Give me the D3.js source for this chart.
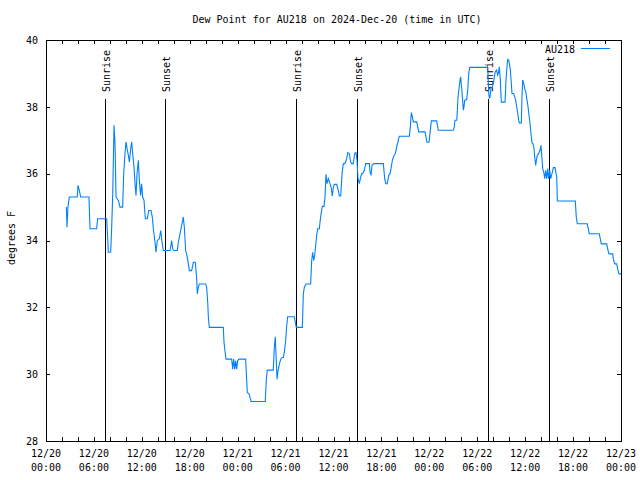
<!DOCTYPE html>
<html><head><meta charset="utf-8">
<script src="https://cdn.jsdelivr.net/npm/d3@7"></script>
<style>
body{margin:0;background:#fff}
svg{display:block}
text{font-family:"DejaVu Sans Mono","Liberation Mono",monospace;font-size:10px;fill:#000}
</style>
</head><body>
<svg id="chart" width="640" height="480"></svg>
<script>
// ---- data (hours since 2024-12-20 00:00 UTC, dew point °F) ----
const hours = [
2.55,2.63,2.75,2.92,3.92,4.0,4.17,4.34,5.38,5.51,6.34,6.47,7.6,7.72,7.8,8.1,8.22,8.35,8.52,8.64,8.77,9.06,9.27,9.6,9.73,9.89,10.02,10.19,10.31,10.44,10.6,10.73,10.85,11.02,11.15,11.27,11.4,11.56,11.69,11.85,11.98,12.1,12.27,12.44,12.69,12.86,13.15,13.31,13.44,13.65,13.77,13.94,14.19,14.36,14.53,14.69,15.53,15.74,15.86,16.03,16.44,16.57,16.78,16.99,17.19,17.32,17.49,17.69,17.95,18.24,18.45,18.7,18.87,
18.95,19.07,19.2,20.0,20.12,20.25,20.33,20.45,22.2,22.29,22.41,22.54,23.25,23.38,23.5,23.63,23.75,23.88,24.0,24.17,25.0,25.13,25.21,25.46,25.67,27.46,27.59,27.71,28.46,28.59,28.71,28.8,28.93,29.05,29.22,29.39,29.55,29.72,29.84,30.01,30.14,30.26,31.09,31.22,31.34,32.1,
32.22,32.35,32.56,33.14,33.27,33.39,33.52,33.64,33.77,33.89,34.02,34.23,34.31,34.48,34.6,34.81,34.94,35.06,35.19,35.35,35.56,35.73,35.85,35.98,36.1,36.4,36.6,36.73,36.9,37.07,37.23,37.44,37.65,37.78,37.98,38.15,38.28,38.48,38.65,38.82,38.94,39.07,39.23,39.36,39.53,39.7,39.86,40.03,40.49,40.57,40.7,40.82,41.07,42.24,42.41,42.54,42.74,42.91,43.08,43.2,43.37,43.58,43.74,43.91,44.12,44.24,45.5,45.62,45.75,45.87,46.0,46.42,46.67,47.46,47.58,47.71,47.96,48.08,48.25,48.92,49.12,51.0,
51.09,51.21,51.43,51.51,51.59,51.72,51.84,51.93,52.01,52.09,52.18,52.26,52.34,52.43,52.68,52.81,52.93,53.06,55.31,55.44,55.52,55.6,55.72,55.89,56.01,56.14,56.26,56.43,56.56,56.69,56.76,56.89,57.01,57.48,57.6,57.73,57.81,57.94,58.02,58.14,58.27,58.35,58.56,58.69,58.81,58.94,59.07,59.19,59.27,59.52,59.6,59.69,59.82,59.94,60.11,60.23,60.36,60.48,60.61,60.73,60.86,60.98,61.11,61.19,61.32,61.4,61.52,61.69,61.86,61.98,62.07,62.2,62.32,62.45,62.57,62.7,62.82,62.95,63.07,63.2,63.36,63.53,63.74,63.95,64.03,66.28,66.4,66.53,67.78,67.91,68.03,69.28,69.41,69.53,70.21,70.33,70.5,70.96,71.04,71.21,71.46,71.58,71.75,72.0
];
const dewF = [
35.0,34.4,35.0,35.3,35.3,35.65,35.5,35.3,35.3,34.35,34.35,34.65,34.65,34.1,33.65,33.65,34.35,35.35,37.45,36.9,35.3,35.2,35.0,35.0,36.0,36.6,36.95,36.7,36.55,36.35,36.75,36.95,36.6,36.2,35.7,35.35,36.0,36.4,35.8,35.35,35.7,35.3,35.2,34.65,34.65,34.9,34.9,34.7,34.35,33.95,33.65,34.0,34.05,34.3,33.95,33.7,33.7,34.0,33.75,33.7,33.7,33.95,34.2,34.45,34.7,34.4,33.7,33.5,33.1,33.1,33.35,33.35,32.85,
32.4,32.6,32.7,32.7,32.6,32.15,31.7,31.4,31.4,30.95,30.7,30.45,30.45,30.15,30.45,30.15,30.4,30.15,30.4,30.45,30.45,29.8,29.45,29.4,29.18,29.18,29.85,30.12,30.12,30.8,31.12,30.6,29.85,30.1,30.3,30.45,30.5,30.5,30.65,31.0,31.45,31.72,31.72,31.55,31.4,31.4,
32.4,32.6,32.7,32.7,33.4,33.65,33.4,33.55,33.85,34.15,34.35,34.35,34.55,34.85,35.02,35.02,35.32,35.98,35.7,35.85,35.7,35.55,35.33,35.6,35.68,35.68,35.5,35.33,35.33,36.0,36.3,36.3,36.45,36.63,36.6,36.35,36.3,36.3,36.6,36.63,36.4,35.85,35.7,35.85,36.0,36.02,36.1,36.3,36.3,36.05,35.95,36.25,36.3,36.3,35.85,35.7,35.7,35.95,36.0,36.15,36.4,36.55,36.6,36.8,37.0,37.12,37.12,37.4,37.83,37.7,37.55,37.55,37.25,37.25,37.1,36.94,36.94,37.2,37.58,37.58,37.3,37.3,
37.35,37.6,37.6,37.9,38.3,38.55,38.8,38.9,38.65,38.45,38.15,37.9,38.0,38.2,38.22,38.5,39.0,39.18,39.18,38.4,38.25,38.3,38.55,38.6,38.7,38.9,39.05,39.1,38.95,39.05,39.2,38.8,38.14,38.14,38.8,39.22,39.42,39.4,39.3,39.1,38.7,38.4,38.4,38.3,38.2,38.0,37.8,37.6,37.52,37.52,38.3,38.8,38.7,38.55,38.4,38.2,38.0,37.75,37.5,37.18,36.92,36.9,36.75,36.5,36.25,36.4,36.55,36.6,36.7,36.85,36.55,36.15,36.05,35.85,36.1,35.85,36.15,35.85,36.1,35.85,36.0,36.18,36.18,35.9,35.18,35.18,34.7,34.5,34.5,34.35,34.2,34.2,34.05,33.9,33.9,33.75,33.6,33.6,33.45,33.3,33.3,33.15,33.0,33.0
];
const sunriseHours = [7.35, 31.35, 55.38];
const sunsetHours = [14.92, 38.94, 62.95];
const xTickHours = [0,6,12,18,24,30,36,42,48,54,60,66,72];
const xTickDates = ["12/20","12/20","12/20","12/20","12/21","12/21","12/21","12/21","12/22","12/22","12/22","12/22","12/23"];
const xTickTimes = ["00:00","06:00","12:00","18:00","00:00","06:00","12:00","18:00","00:00","06:00","12:00","18:00","00:00"];
const xMinorHours = d3.range(0, 73, 2);
const yTicks = [28,30,32,34,36,38,40];
const titleText = "Dew Point for AU218 on 2024-Dec-20 (time in UTC)";
const yLabel = "degrees F";
const seriesName = "AU218";
const lineColor = "#0080ff";

// ---- layout ----
const L = 46, R = 621, T = 40, B = 441;
const svg = d3.select("#chart");
const x = d3.scaleLinear().domain([0,72]).range([L,R]);
const y = d3.scaleLinear().domain([28,40]).range([B,T]);

// axes (ticks inward)
const gB = svg.append("g").attr("transform",`translate(0,${B})`)
  .call(d3.axisBottom(x).tickValues(xMinorHours).tickFormat("").tickSize(-4));
const gT = svg.append("g").attr("transform",`translate(0,${T})`)
  .call(d3.axisTop(x).tickValues(xMinorHours).tickFormat("").tickSize(-4));
const gL = svg.append("g").attr("transform",`translate(${L},0)`)
  .call(d3.axisLeft(y).tickValues(yTicks).tickFormat(d3.format("d")).tickSize(-4).tickPadding(8));
const gR = svg.append("g").attr("transform",`translate(${R},0)`)
  .call(d3.axisRight(y).tickValues(yTicks).tickFormat("").tickSize(-4));
[gB,gT,gL,gR].forEach(g=>{
  g.select(".domain").remove();
  g.selectAll(".tick line").attr("stroke","#000").attr("shape-rendering","crispEdges");
  g.selectAll("text").attr("font-family",null).attr("font-size",null).attr("fill","#000");
});
gL.selectAll(".tick text").attr("font-size","10px");

// frame
svg.append("rect").attr("x",L+0.5).attr("y",T+0.5).attr("width",R-L).attr("height",B-T)
  .attr("fill","none").attr("stroke","#000").attr("shape-rendering","crispEdges");

// x tick labels (two lines)
const xl = svg.append("g");
xTickHours.forEach((h,i)=>{
  xl.append("text").attr("x",x(h)).attr("y",457).attr("text-anchor","middle").text(xTickDates[i]);
  xl.append("text").attr("x",x(h)).attr("y",471).attr("text-anchor","middle").text(xTickTimes[i]);
});

// sunrise / sunset markers
const events = sunriseHours.map(h=>({h,label:"Sunrise"})).concat(sunsetHours.map(h=>({h,label:"Sunset"})));
events.forEach(e=>{
  const px = Math.round(x(e.h))+0.5;
  svg.append("line").attr("x1",px).attr("x2",px).attr("y1",99).attr("y2",B)
    .attr("stroke","#000").attr("shape-rendering","crispEdges");
  svg.append("text").attr("transform",`translate(${px+4},92) rotate(-90)`)
    .attr("text-anchor","start").text(e.label);
});

// series line
const data = hours.map((h,i)=>({h,v:dewF[i]}));
svg.append("path").datum(data)
  .attr("fill","none").attr("stroke",lineColor).attr("stroke-width",1.1)
  .attr("d", d3.line().x(d=>x(d.h)).y(d=>y(d.v)));

// legend
svg.append("text").attr("x",575).attr("y",52.5).attr("text-anchor","end").text(seriesName);
svg.append("line").attr("x1",581).attr("x2",610).attr("y1",48.5).attr("y2",48.5)
  .attr("stroke",lineColor).attr("stroke-width",1).attr("shape-rendering","crispEdges");

// title & y label
svg.append("text").attr("x",337).attr("y",23).attr("text-anchor","middle").text(titleText);
svg.append("text").attr("transform","translate(15,238) rotate(-90)").attr("text-anchor","middle").text(yLabel);
</script>
</body></html>
